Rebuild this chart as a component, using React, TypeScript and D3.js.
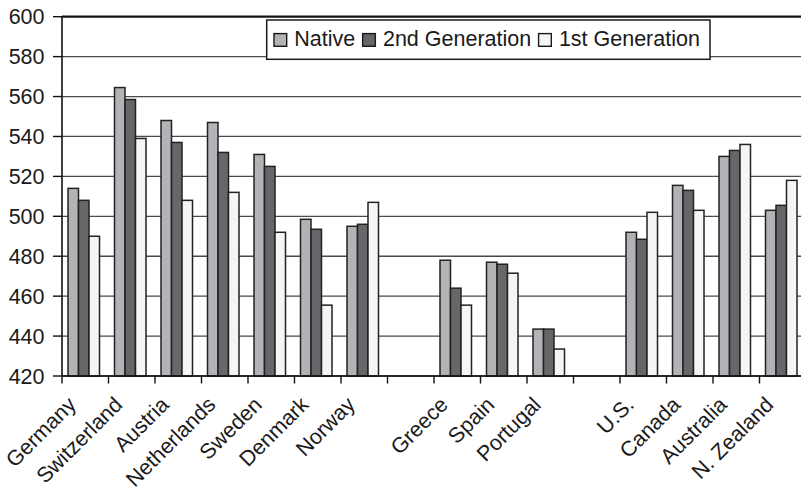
import React, { useLayoutEffect, useRef } from 'react';
import * as d3 from 'd3';

// Country groups, with empty slots separating the regional blocks
const countries = [
  'Germany', 'Switzerland', 'Austria', 'Netherlands', 'Sweden', 'Denmark', 'Norway', '',
  'Greece', 'Spain', 'Portugal', '',
  'U.S.', 'Canada', 'Australia', 'N. Zealand',
];

const seriesNames = ['Native', '2nd Generation', '1st Generation'];

const nativeScores = [514, 564.5, 548, 547, 531, 498.5, 495, null, 478, 477, 443.5, null, 492, 515.5, 530, 503];
const secondGenScores = [508, 558.5, 537, 532, 525, 493.5, 496, null, 464, 476, 443.5, null, 488.5, 513, 533, 505.5];
const firstGenScores = [490, 539, 508, 512, 492, 455.5, 507, null, 455.5, 471.5, 433.5, null, 502, 503, 536, 518];

const yTicks = [420, 440, 460, 480, 500, 520, 540, 560, 580, 600];

const seriesValues = [nativeScores, secondGenScores, firstGenScores];
const seriesFills = ['#b2b3b7', '#67676a', '#f5f5f5'];

const W = 801;
const H = 491;
const FONT = '"Liberation Sans", Arial, Helvetica, sans-serif';

export default function App() {
  const left = 62;
  const right = 806; // the last category runs slightly past the visible edge
  const top = 16.7;
  const bottom = 376;

  const y = d3.scaleLinear().domain([420, 600]).range([bottom, top]);
  const x = d3.scaleBand<number>().domain(d3.range(countries.length)).range([left, right]).paddingInner(0).paddingOuter(0);
  const inner = d3.scaleBand<number>().domain(d3.range(seriesNames.length)).range([6, 37.5]).padding(0);

  const legendRef = useRef<SVGGElement>(null);

  useLayoutEffect(() => {
    const g = d3.select(legendRef.current);
    g.selectAll('*').remove();
    const boxX = 266.7, boxY = 20, boxW = 443.3, boxH = 39.3;
    g.append('rect')
      .attr('x', boxX).attr('y', boxY).attr('width', boxW).attr('height', boxH)
      .attr('fill', '#fff').attr('stroke', '#1a1a1a').attr('stroke-width', 1.5);
    let cx = 274;
    const sq = 12.7;
    const baseline = 46.3;
    seriesNames.forEach((name, i) => {
      g.append('rect')
        .attr('x', cx).attr('y', baseline - sq).attr('width', sq).attr('height', sq)
        .attr('fill', seriesFills[i]).attr('stroke', '#1a1a1a').attr('stroke-width', 1.4);
      const t = g.append('text')
        .attr('x', cx + sq + 7.6).attr('y', baseline)
        .attr('font-family', FONT).attr('font-size', 21.5).attr('fill', '#1a1a1a')
        .text(name);
      const w = (t.node() as SVGTextElement).getComputedTextLength();
      cx = cx + sq + 7.6 + w + 7.4;
    });
  }, []);

  return (
    <svg width={W} height={H} style={{ position: 'absolute', left: 0, top: 0, background: '#fff' }}>
      {/* horizontal gridlines */}
      {yTicks.map((t) => (
        <line key={`g${t}`} x1={left} x2={right} y1={y(t)} y2={y(t)}
          stroke={t === 600 ? '#111' : '#4a4a4a'} strokeWidth={t === 600 ? 2.2 : 1.3} />
      ))}

      {/* bars */}
      {countries.map((c, i) => (
        <g key={`c${i}`} transform={`translate(${x(i)},0)`}>
          {seriesValues.map((vals, j) => {
            const v = vals[i];
            if (v == null) return null;
            return (
              <rect key={j} x={inner(j)} y={y(v)} width={inner.bandwidth()} height={bottom - y(v)}
                fill={seriesFills[j]} stroke="#222" strokeWidth={1.5} />
            );
          })}
        </g>
      ))}

      {/* y axis */}
      <line x1={left} x2={left} y1={top} y2={bottom} stroke="#111" strokeWidth={1.6} />
      {yTicks.map((t) => (
        <g key={`yt${t}`}>
          <line x1={53} x2={left} y1={y(t)} y2={y(t)} stroke="#111" strokeWidth={1.4} />
          <text x={44.5} y={y(t)} dy="0.36em" textAnchor="end" fontFamily={FONT} fontSize={21.5} fill="#1a1a1a">{t}</text>
        </g>
      ))}

      {/* x axis */}
      <line x1={left} x2={right} y1={bottom} y2={bottom} stroke="#111" strokeWidth={1.6} />
      {d3.range(countries.length + 1).map((i) => {
        const px = i < countries.length ? (x(i) as number) : right;
        return <line key={`xt${i}`} x1={px} x2={px} y1={bottom} y2={bottom + 7.5} stroke="#111" strokeWidth={1.4} />;
      })}
      {countries.map((c, i) => c ? (
        <text key={`xl${i}`} textAnchor="end" fontFamily={FONT} fontSize={21.5} fill="#1a1a1a"
          transform={`translate(${(x(i) as number) + x.bandwidth() / 2 - 8},${bottom + 30}) rotate(-45)`}>{c}</text>
      ) : null)}

      <g ref={legendRef} />
    </svg>
  );
}
